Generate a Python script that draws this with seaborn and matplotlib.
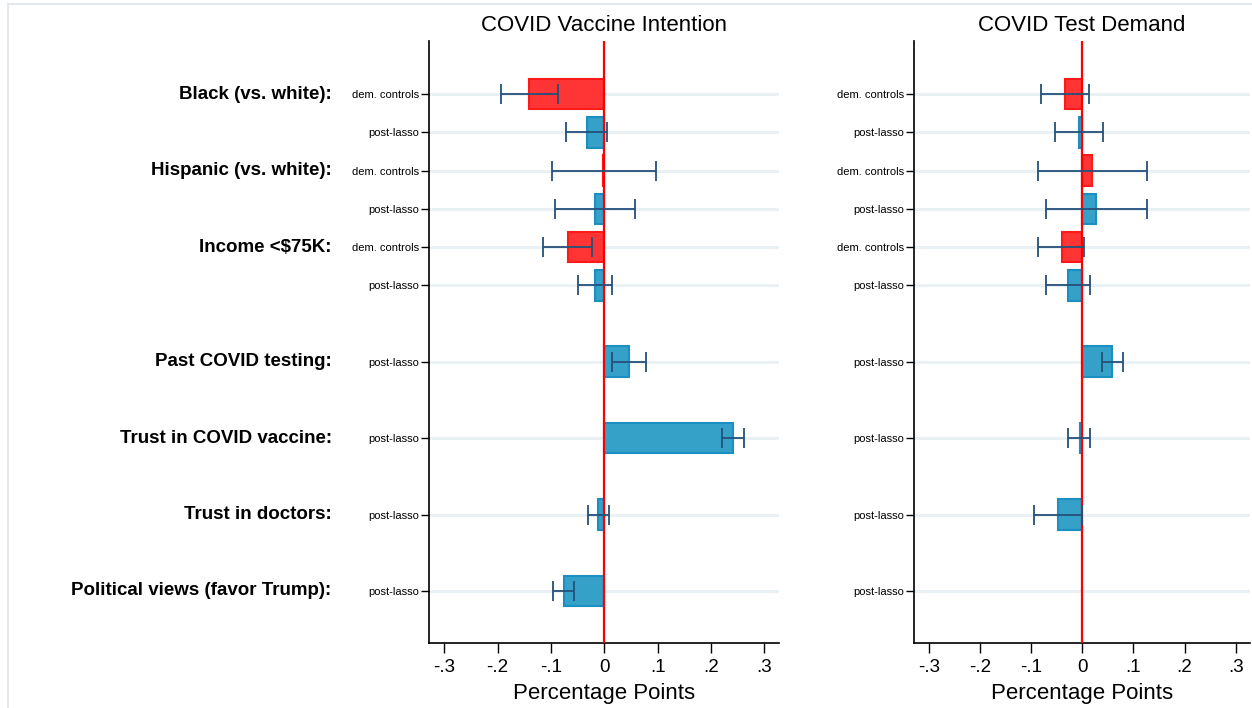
import numpy as np
import pandas as pd
import seaborn as sns
import matplotlib.pyplot as plt
from matplotlib.patches import Rectangle

# rows of the coefficient plot (top to bottom)
row_keys = ["black_dem", "black_post", "hisp_dem", "hisp_post", "inc_dem", "inc_post",
            "past_post", "vacc_post", "doc_post", "trump_post"]
row_spec = ["dem. controls", "post-lasso", "dem. controls", "post-lasso", "dem. controls", "post-lasso",
            "post-lasso", "post-lasso", "post-lasso", "post-lasso"]
group_labels = ["Black (vs. white):", "Hispanic (vs. white):", "Income <$75K:",
                "Past COVID testing:", "Trust in COVID vaccine:", "Trust in doctors:",
                "Political views (favor Trump):"]
group_first_row = ["black_dem", "hisp_dem", "inc_dem", "past_post", "vacc_post", "doc_post", "trump_post"]

# COVID vaccine intention
vacc_est = [-0.141, -0.033, -0.002, -0.017, -0.069, -0.017, 0.047, 0.241, -0.012, -0.076]
vacc_lo = [-0.194, -0.072, -0.098, -0.092, -0.115, -0.049, 0.014, 0.220, -0.031, -0.096]
vacc_hi = [-0.086, 0.005, 0.096, 0.058, -0.023, 0.015, 0.079, 0.261, 0.008, -0.056]

# COVID test demand (no estimate for political views)
test_est = [-0.033, -0.006, 0.020, 0.028, -0.040, -0.027, 0.059, -0.005, -0.048, np.nan]
test_lo = [-0.081, -0.054, -0.087, -0.071, -0.086, -0.070, 0.038, -0.027, -0.095, np.nan]
test_hi = [0.014, 0.041, 0.127, 0.127, 0.004, 0.016, 0.080, 0.016, -0.001, np.nan]

xticks = [-0.3, -0.2, -0.1, 0, 0.1, 0.2, 0.3]
xticklabels = ["-.3", "-.2", "-.1", "0", ".1", ".2", ".3"]

# category order with empty spacer slots between the single-row groups
order = ["black_dem", "black_post", "hisp_dem", "hisp_post", "inc_dem", "inc_post", "gap1",
         "past_post", "gap2", "vacc_post", "gap3", "doc_post", "gap4", "trump_post"]

hue_order = ["dem. controls", "post-lasso"]
fill = {"dem. controls": "#ff3535", "post-lasso": "#35a1c9"}
edge = {"dem. controls": "#ff1a1a", "post-lasso": "#1b8ec2"}

sns.set_style("white")
plt.rcParams['font.family'] = ['Liberation Sans', 'DejaVu Sans']
plt.rcParams['text.color'] = 'black'
plt.rcParams['axes.labelcolor'] = 'black'
plt.rcParams['xtick.color'] = 'black'
plt.rcParams['ytick.color'] = 'black'

fig = plt.figure(figsize=(12.52, 7.08), dpi=100)
ax1 = fig.add_axes([0.3429, 0.0914, 0.2796, 0.8511])
ax2 = fig.add_axes([0.7303, 0.0914, 0.2681, 0.8511])

# light frame of the original figure
fig.add_artist(Rectangle((0.0064, -0.1), 1.2, 1.0944, transform=fig.transFigure,
                         fill=False, edgecolor="#dfe5ea", lw=1.2, clip_on=False))


def panel(ax, est, lo, hi, title):
    df = pd.DataFrame({"row": row_keys, "spec": row_spec, "est": est, "lo": lo, "hi": hi}).dropna()
    sns.barplot(data=df, x="est", y="row", hue="spec", order=order, hue_order=hue_order,
                palette=fill, dodge=False, width=0.8, orient="h", errorbar=None,
                saturation=1, legend=False, ax=ax, zorder=2)
    for cont, spec in zip(ax.containers, hue_order):
        for bar in cont:
            bar.set_edgecolor(edge[spec])
            bar.set_linewidth(1.5)

    pos = np.array([order.index(k) for k in df["row"]])
    lo_ = df["lo"].to_numpy()
    hi_ = df["hi"].to_numpy()
    ax.axvline(0, color="#ff0000", lw=1.6, zorder=3)
    ax.errorbar(x=(lo_ + hi_) / 2, y=pos, xerr=(hi_ - lo_) / 2, fmt="none",
                ecolor="#24507a", elinewidth=1.3, capsize=7, capthick=1.3, zorder=4)

    ypos = [order.index(k) for k in row_keys]
    ax.set_yticks(ypos)
    ax.set_yticklabels(row_spec, fontsize=8)
    ax.grid(axis="y", color="#e9f1f4", lw=2.2)
    ax.grid(axis="x", visible=False)
    ax.set_axisbelow(True)

    ax.set_xlim(-0.328, 0.328)
    ax.set_ylim(14.37, -1.40)
    ax.set_xticks(xticks)
    ax.set_xticklabels(xticklabels, fontsize=13.5)
    ax.tick_params(axis="y", length=5.5, width=1, pad=1.5, left=True, color="black")
    ax.tick_params(axis="x", length=7, width=1, pad=4, bottom=True, color="black")
    ax.set_xlabel("Percentage Points", fontsize=16, labelpad=5)
    ax.set_ylabel("")
    ax.set_title(title, fontsize=16, pad=7)
    sns.despine(ax=ax)
    for s in ["left", "bottom"]:
        ax.spines[s].set_color("black")
        ax.spines[s].set_linewidth(1.2)


panel(ax1, vacc_est, vacc_lo, vacc_hi, "COVID Vaccine Intention")
panel(ax2, test_est, test_lo, test_hi, "COVID Test Demand")

for lab, key in zip(group_labels, group_first_row):
    ax1.text(-0.279, order.index(key), lab, transform=ax1.get_yaxis_transform(),
             ha="right", va="center", fontsize=13.5, fontweight="bold")

fig.savefig("out.png", dpi=100)
